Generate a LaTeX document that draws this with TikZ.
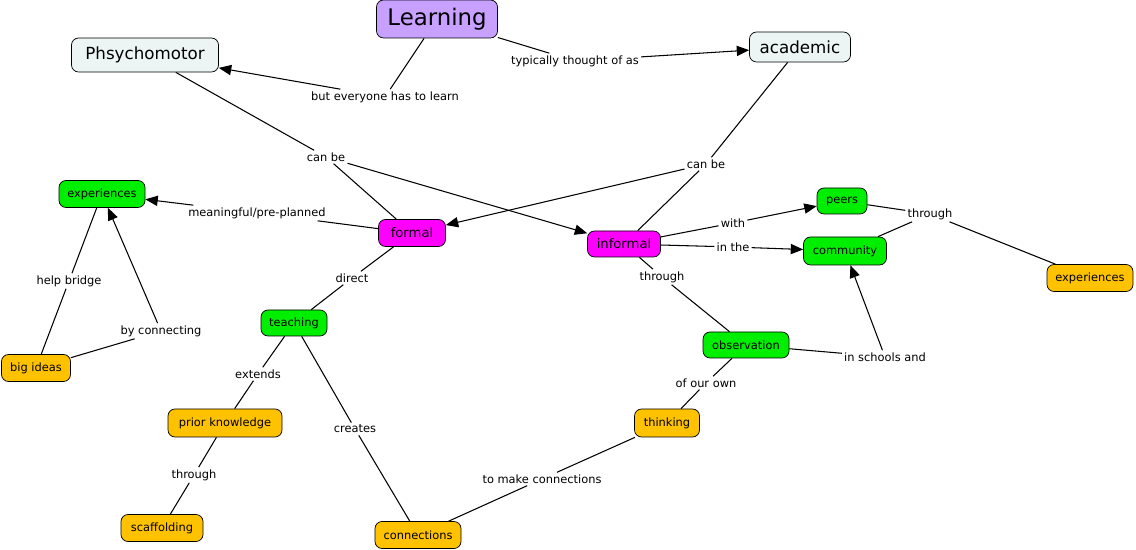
\documentclass[tikz,border=0pt]{standalone}
\usepackage{fontspec}
\setmainfont{DejaVu Sans}
\usetikzlibrary{arrows}
\definecolor{node_purple}{RGB}{200,160,255}
\definecolor{node_pale}{RGB}{236,244,244}
\definecolor{node_magenta}{RGB}{255,0,255}
\definecolor{node_green}{RGB}{0,238,0}
\definecolor{node_orange}{RGB}{255,194,0}

\begin{document}
\begin{tikzpicture}[x=0.02cm,y=-0.02cm,semithick,>=triangle 45]
    \tikzstyle{concept}=[draw=black, thin, rounded corners=4pt, inner sep=0pt, text=black, font=\fontsize{6.5}{8}\selectfont]
    \tikzstyle{top}=[style=concept, fill=node_pale, font=\fontsize{9.5}{11}\selectfont]
    \tikzstyle{mode}=[style=concept, fill=node_magenta, font=\fontsize{7.5}{9}\selectfont]
    \tikzstyle{leafgn}=[style=concept, fill=node_green]
    \tikzstyle{leafor}=[style=concept, fill=node_orange]
    \tikzstyle{link}=[fill=white, inner sep=1pt, text=black, font=\fontsize{6.5}{8}\selectfont]
    \useasboundingbox (0,0) rectangle (1136,550);

    \node[top,fill=node_purple,minimum width=121*0.02cm,minimum height=38*0.02cm,font=\fontsize{13}{15}\selectfont] (learning) at (437,19) {Learning};
    \node[top,minimum width=147*0.02cm,minimum height=34*0.02cm] (psycho) at (145,55) {Phsychomotor};
    \node[top,minimum width=101*0.02cm,minimum height=30*0.02cm] (academic) at (800,47) {academic};
    \node[mode,minimum width=67*0.02cm,minimum height=27*0.02cm] (formal) at (412,233) {formal};
    \node[mode,minimum width=73*0.02cm,minimum height=26*0.02cm] (informal) at (624,244) {informal};
    \node[leafgn,minimum width=86*0.02cm,minimum height=27*0.02cm] (exp) at (102,194) {experiences};
    \node[leafgn,minimum width=50*0.02cm,minimum height=26*0.02cm] (peers) at (842,201) {peers};
    \node[leafgn,minimum width=83*0.02cm,minimum height=28*0.02cm] (community) at (845,251) {community};
    \node[leafor,minimum width=86*0.02cm,minimum height=27*0.02cm] (exp2) at (1090,278) {experiences};
    \node[leafgn,minimum width=66*0.02cm,minimum height=26*0.02cm] (teaching) at (294,323) {teaching};
    \node[leafor,minimum width=69*0.02cm,minimum height=27*0.02cm] (bigideas) at (36,368) {big ideas};
    \node[leafgn,minimum width=86*0.02cm,minimum height=26*0.02cm] (observation) at (746,345) {observation};
    \node[leafor,minimum width=114*0.02cm,minimum height=28*0.02cm] (prior) at (225,423) {prior knowledge};
    \node[leafor,minimum width=65*0.02cm,minimum height=28*0.02cm] (thinking) at (667,423) {thinking};
    \node[leafor,minimum width=82*0.02cm,minimum height=27*0.02cm] (scaffolding) at (162,528) {scaffolding};
    \node[leafor,minimum width=86*0.02cm,minimum height=27*0.02cm] (connections) at (418,535) {connections};

    \node[link] (l_learn) at (385,97) {but everyone has to learn};
    \node[link] (l_typ) at (575,61) {typically thought of as};
    \node[link] (l_canbe1) at (326,157) {can be};
    \node[link] (l_canbe2) at (706,164) {can be};
    \node[link] (l_mean) at (257,213) {meaningful/pre-planned};
    \node[link] (l_direct) at (352,278) {direct};
    \node[link] (l_with) at (733,223) {with};
    \node[link] (l_inthe) at (733,247) {in the};
    \node[link] (l_thr1) at (930,214) {through};
    \node[link] (l_thr2) at (662,277) {through};
    \node[link] (l_help) at (69,281) {help bridge};
    \node[link] (l_byconn) at (161,331) {by connecting};
    \node[link] (l_ext) at (258,374) {extends};
    \node[link] (l_creates) at (355,429) {creates};
    \node[link] (l_schools) at (885,357) {in schools and};
    \node[link] (l_own) at (706,383) {of our own};
    \node[link] (l_thr3) at (194,475) {through};
    \node[link] (l_make) at (542,479) {to make connections};

    \draw (learning) -- (l_learn);
    \draw[->] (l_learn) -- (psycho);
    \draw (learning) -- (l_typ);
    \draw[->] (l_typ) -- (academic);
    \draw (psycho) -- (l_canbe1);
    \draw (l_canbe1) -- (formal);
    \draw[->] (l_canbe1) -- (informal);
    \draw (academic) -- (l_canbe2);
    \draw (l_canbe2) -- (informal);
    \draw[->] (l_canbe2) -- (formal);
    \draw (formal) -- (l_mean);
    \draw[->] (l_mean) -- (exp);
    \draw (formal) -- (l_direct);
    \draw (l_direct) -- (teaching);
    \draw (informal) -- (l_with);
    \draw[->] (l_with) -- (peers);
    \draw (informal) -- (l_inthe);
    \draw[->] (l_inthe) -- (community);
    \draw (peers) -- (l_thr1);
    \draw (community) -- (l_thr1);
    \draw (l_thr1) -- (exp2);
    \draw (informal) -- (l_thr2);
    \draw (l_thr2) -- (observation);
    \draw (observation) -- (l_schools);
    \draw[->] (l_schools) -- (community);
    \draw (observation) -- (l_own);
    \draw (l_own) -- (thinking);
    \draw (thinking) -- (l_make);
    \draw (l_make) -- (connections);
    \draw (teaching) -- (l_creates);
    \draw (l_creates) -- (connections);
    \draw (teaching) -- (l_ext);
    \draw (l_ext) -- (prior);
    \draw (prior) -- (l_thr3);
    \draw (l_thr3) -- (scaffolding);
    \draw (bigideas) -- (l_help);
    \draw (l_help) -- (exp);
    \draw (bigideas) -- (l_byconn);
    \draw[->] (l_byconn) -- (exp);
\end{tikzpicture}
\end{document}
